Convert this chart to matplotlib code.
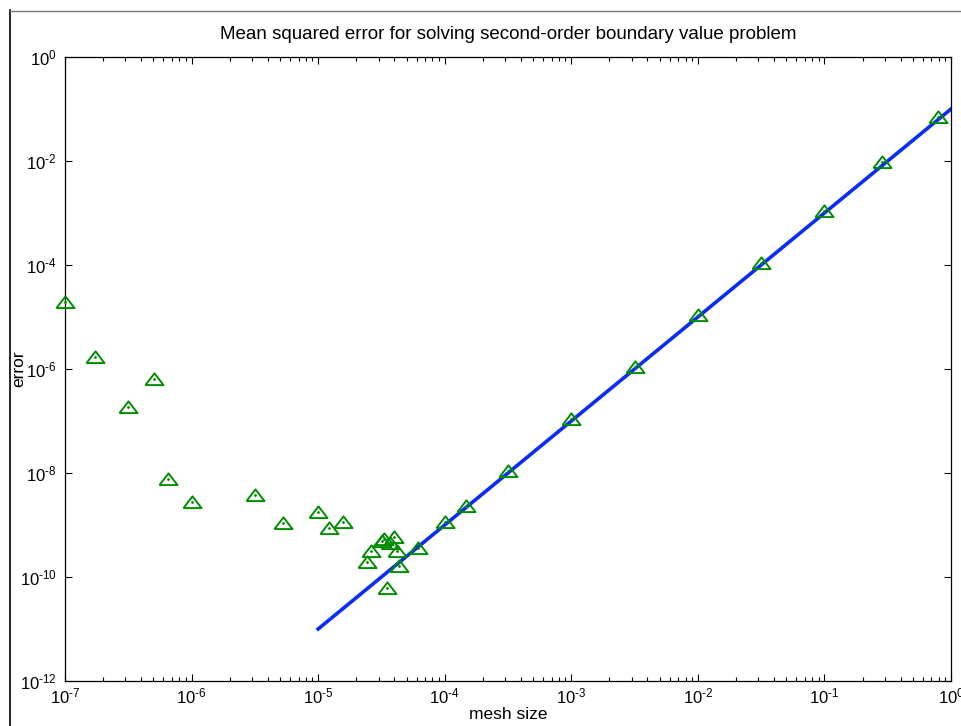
import numpy as np
import matplotlib
matplotlib.use("Agg")
import matplotlib.pyplot as plt
from matplotlib.lines import Line2D
from matplotlib.ticker import FixedLocator, LogLocator, NullFormatter, FuncFormatter

plt.rcParams['font.family'] = ['Liberation Sans', 'DejaVu Sans']
plt.rcParams['mathtext.fontset'] = 'custom'
plt.rcParams['mathtext.rm'] = 'Liberation Sans'
plt.rcParams['mathtext.it'] = 'Liberation Sans'

# mesh size / error pairs
mesh_size = [1e-7, 1.73e-7, 3.15e-7, 5.05e-7, 6.5e-7, 1e-6, 3.16e-6, 5.27e-6,
             1e-5, 1.22e-5, 1.57e-5, 2.43e-5, 2.61e-5, 3.19e-5, 3.31e-5, 3.49e-5,
             3.69e-5, 3.97e-5, 4.19e-5, 4.35e-5, 6.14e-5, 1e-4, 1.47e-4, 3.16e-4,
             1e-3, 3.16e-3, 1e-2, 3.16e-2, 0.1, 0.284, 0.787]
error = [1.95e-5, 1.7e-6, 1.86e-7, 6.4e-7, 7.7e-9, 2.77e-9, 3.8e-9, 1.1e-9,
         1.78e-9, 8.7e-10, 1.14e-9, 1.95e-10, 3.16e-10, 4.9e-10, 5.4e-10, 6.2e-11,
         4.5e-10, 5.9e-10, 3.16e-10, 1.63e-10, 3.6e-10, 1.14e-9, 2.3e-9, 1.1e-8,
         1.1e-7, 1.1e-6, 1.1e-5, 1.1e-4, 1.1e-3, 9.5e-3, 7e-2]

# reference slope-2 line
line_h = [1e-5, 1.0]
line_err = [1e-11, 1e-1]

fig = plt.figure(figsize=(9.62, 7.26), dpi=100)
ax = fig.add_axes([65/962, 1-681/726, 886/962, 624/726])

ax.plot(line_h, line_err, color='#0a2cf5', lw=2.6, zorder=2)
tri = [(-1, -0.62), (1, -0.62), (0, 0.68), (-1, -0.62)]
ax.plot(mesh_size, error, linestyle='none', marker=tri, ms=13,
        markerfacecolor='none', markeredgecolor='#008c00', mew=1.4,
        zorder=3, clip_on=False)
ax.plot(mesh_size, error, linestyle='none', marker='.', ms=2,
        color='#008c00', zorder=3, clip_on=False)

ax.set_xscale('log')
ax.set_yscale('log')
ax.set_xlim(1e-7, 1)
ax.set_ylim(1e-12, 1)

ax.xaxis.set_major_locator(FixedLocator([10.0**k for k in range(-7, 1)]))
ax.xaxis.set_minor_locator(LogLocator(base=10, subs=np.arange(2, 10), numticks=20))
ax.xaxis.set_minor_formatter(NullFormatter())
ax.yaxis.set_major_locator(FixedLocator([10.0**k for k in range(-12, 1, 2)]))
ax.yaxis.set_minor_locator(FixedLocator([]))
fmt = FuncFormatter(lambda v, p: r'$10^{\text{%d}}$' % int(round(np.log10(v))))
ax.xaxis.set_major_formatter(fmt)
ax.yaxis.set_major_formatter(fmt)

ax.tick_params(which='both', direction='in', top=True, right=True, labelsize=12)
ax.tick_params(which='major', length=5, width=0.8)
ax.tick_params(which='minor', length=3, width=0.8)
ax.tick_params(axis='x', pad=4)
ax.tick_params(axis='y', pad=6)
for s in ax.spines.values():
    s.set_linewidth(0.9)

ax.set_title('Mean squared error for solving second-order boundary value problem',
             fontsize=13.5, pad=13)
ax.set_xlabel('mesh size', fontsize=12.5)
ax.set_ylabel('error', fontsize=12.5)
ax.xaxis.set_label_coords(0.5, -0.042)
ax.yaxis.set_label_coords(-0.044, 0.5)

# window frame edges visible in the crop
fig.add_artist(Line2D([10/962, 10/962], [0, 1-10/726], color='black', lw=1.2))
fig.add_artist(Line2D([10/962, 1], [1-11/726, 1-11/726], color='#777777', lw=1.0))

fig.savefig('out.png', dpi=100)
